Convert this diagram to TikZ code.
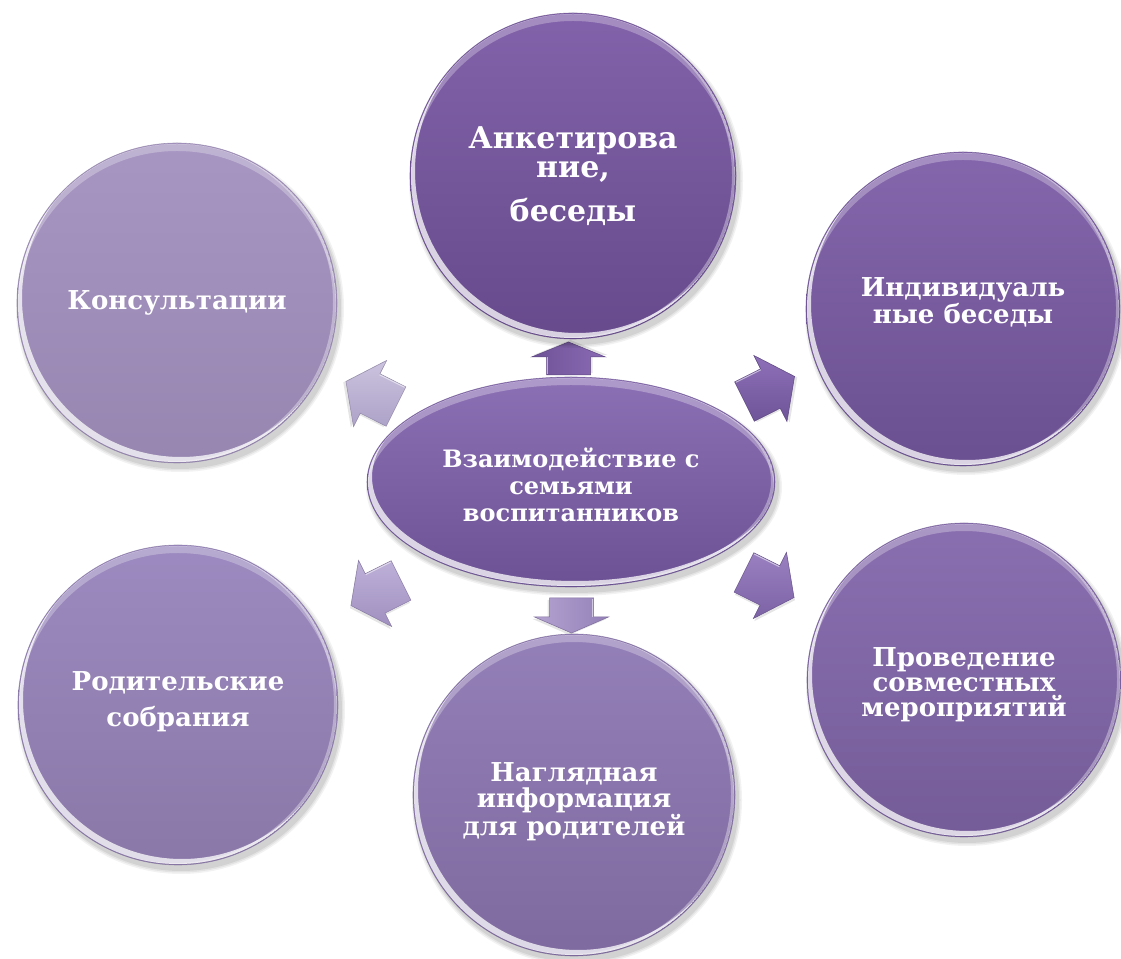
\documentclass[tikz,border=0pt]{standalone}
\usepackage{fontspec}
\setmainfont{DejaVu Serif}
\usetikzlibrary{calc}
\definecolor{ankT}{HTML}{8262AA}\definecolor{ankB}{HTML}{664A8C}
\definecolor{indT}{HTML}{8466AC}\definecolor{indB}{HTML}{6A5090}
\definecolor{prvT}{HTML}{8A6FB0}\definecolor{prvB}{HTML}{745C98}
\definecolor{ngT}{HTML}{9480B8}\definecolor{ngB}{HTML}{7E6A9E}
\definecolor{rodT}{HTML}{9C8AC0}\definecolor{rodB}{HTML}{8A78A8}
\definecolor{konT}{HTML}{A796C2}\definecolor{konB}{HTML}{9686B0}
\definecolor{cenT}{HTML}{8C70B5}\definecolor{cenB}{HTML}{6C5294}
\definecolor{aUpT}{HTML}{8A6BB5}\definecolor{aUpB}{HTML}{6E5296}
\definecolor{aURT}{HTML}{8E70B8}\definecolor{aURB}{HTML}{6E5498}
\definecolor{aLRT}{HTML}{9A80C0}\definecolor{aLRB}{HTML}{7C63A6}
\definecolor{aDnT}{HTML}{B3A3D0}\definecolor{aDnB}{HTML}{9480B8}
\definecolor{aLLT}{HTML}{BDB0D8}\definecolor{aLLB}{HTML}{A090C0}
\definecolor{aULT}{HTML}{CBC3DE}\definecolor{aULB}{HTML}{ADA2C8}
\tikzset{
  lbl/.style={text=white, font=\bfseries\fontsize{26}{25}\selectfont, align=center, inner sep=0pt},
}
% name, x, y, r, top colour, bottom colour, text, extra node options
\newcommand\bubble[8]{%
  \foreach \k/\o in {4/0.05,2.5/0.06,1/0.07}{\fill[black,opacity=\o] (#2+3,#3-5) circle ({#4+\k});}
  \shade[top color=#5,bottom color=#6] (#2,#3) circle (#4);
  \begin{scope}
    \clip (#2,#3) circle ({#4-1});
    \fill[white,opacity=.75,even odd rule] (#2,#3) circle ({#4-1}) (#2+4,#3+5) circle ({#4-1});
    \fill[white,opacity=.28,even odd rule] (#2,#3) circle ({#4-1}) (#2,#3-7) circle ({#4-1});
    \fill[white,opacity=.35,even odd rule] (#2,#3) circle ({#4-1}) (#2-3,#3+1) circle ({#4-1});
  \end{scope}
  \draw[#6!90!black, opacity=.6, line width=.6pt] (#2,#3) circle (#4);
  \node[lbl,#8] (#1) at (#2,#3) {#7};
}
% x, y, transform, half length, head length, top colour, bottom colour, shading angle
\newcommand\blockarrow[8]{%
  \begin{scope}[shift={(#1,#2)},#3]
    \fill[black,opacity=.10] (-#4+2,20) -- ({#4-#5+2},20) -- ({#4-#5+2},35) -- (#4+2,-2) -- ({#4-#5+2},-39) -- ({#4-#5+2},-24) -- (-#4+2,-24) -- cycle;
    \shade[top color=#6,bottom color=#7,shading angle=#8,draw=#7!85!black,line width=.5pt]
      (-#4,22) -- ({#4-#5},22) -- ({#4-#5},37) -- (#4,0) -- ({#4-#5},-37) -- ({#4-#5},-22) -- (-#4,-22) -- cycle;
    \draw[white,opacity=.55,line width=1pt] (-#4+1,21) -- ({#4-#5},21);
  \end{scope}
}
\begin{document}
\begin{tikzpicture}[x=1pt,y=1pt]
\useasboundingbox (0,0) rectangle (1121,958);
\fill[white] (0,0) rectangle (1121,958);

% arrows
\blockarrow{568.5}{599.5}{rotate=90}{16.5}{15}{aUpT}{aUpB}{-90}
\blockarrow{571.5}{342.5}{rotate=-90}{17.5}{16}{aDnT}{aDnB}{90}
\blockarrow{769.5}{569}{rotate=26.6}{28}{27}{aURT}{aURB}{0}
\blockarrow{769}{373}{rotate=-26.6}{28}{27}{aLRT}{aLRB}{0}
\blockarrow{371}{564}{xscale=-1,rotate=26.6}{28}{27}{aULT}{aULB}{0}
\blockarrow{376}{365}{xscale=-1,rotate=-26.6}{28}{27}{aLLT}{aLLB}{0}

% central ellipse
\foreach \k/\o in {4/0.05,2.5/0.06,1/0.07}{\fill[black,opacity=\o] (574,471) ellipse ({204+\k} and {105+\k});}
\shade[top color=cenT,bottom color=cenB] (571,476) ellipse (204 and 105);
\begin{scope}
  \clip (571,476) ellipse (203 and 104);
  \fill[white,opacity=.75,even odd rule] (571,476) ellipse (203 and 104) (575,481) ellipse (203 and 104);
  \fill[white,opacity=.3,even odd rule] (571,476) ellipse (203 and 104) (571,469) ellipse (203 and 104);
  \fill[white,opacity=.35,even odd rule] (571,476) ellipse (203 and 104) (568,477) ellipse (203 and 104);
\end{scope}
\draw[cenB!90!black,opacity=.6,line width=.6pt] (571,476) ellipse (204 and 105);
\node[lbl,font=\bfseries\fontsize{24}{27}\selectfont] (center) at (571,473) {Взаимодействие с\\семьями\\воспитанников};

% satellites
\bubble{ank}{573}{782}{163}{ankT}{ankB}{Анкетирова\\ние,\\[15pt]беседы}{font=\bfseries\fontsize{30}{29}\selectfont}
\bubble{kons}{177}{655}{160}{konT}{konB}{Консультации}{}
\bubble{ind}{963}{649}{157}{indT}{indB}{Индивидуаль\\ные беседы}{yshift=7pt}
\bubble{rod}{178}{253}{160}{rodT}{rodB}{Родительские\\[11pt]собрания}{yshift=3pt}
\bubble{nagl}{574}{163}{161}{ngT}{ngB}{Наглядная\\информация\\для родителей}{yshift=-7pt,font=\bfseries\fontsize{26}{26}\selectfont}
\bubble{prov}{964}{278}{157}{prvT}{prvB}{Проведение\\совместных\\мероприятий}{yshift=-5pt}
\end{tikzpicture}
\end{document}
